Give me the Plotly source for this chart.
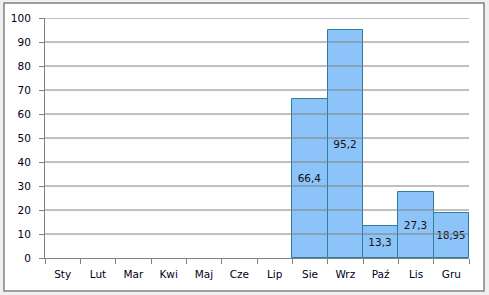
import plotly.graph_objects as go

months = ["Sty", "Lut", "Mar", "Kwi", "Maj", "Cze", "Lip", "Sie", "Wrz", "Paź", "Lis", "Gru"]
values = [None, None, None, None, None, None, None, 66.4, 95.2, 13.3, 27.3, 18.95]
y_ticks = [0, 10, 20, 30, 40, 50, 60, 70, 80, 90, 100]

W, H = 489, 295
L, R, T, B = 45, 20, 18, 37

fig = go.Figure()
fig.add_trace(go.Bar(
    x=months, y=values,
    marker=dict(color="#8cc3f9", line=dict(color="#2e7d9c", width=1)),
    texttemplate="%{y}", textposition="inside", insidetextanchor="middle",
    textangle=0,
    textfont=dict(family="DejaVu Sans", size=10.5, color="#111111"),
    hoverinfo="skip",
))

shapes = [dict(
    type="rect", xref="paper", yref="paper", layer="below",
    x0=(4 - L) / (W - L - R), x1=(484 - L) / (W - L - R),
    y0=(H - B - 291) / (H - T - B), y1=(H - B - 3) / (H - T - B),
    fillcolor="white", line=dict(color="#808080", width=1.5),
)]
for v in y_ticks[1:]:
    shapes.append(dict(type="line", xref="paper", yref="y", x0=0, x1=1, y0=v, y1=v,
                       layer="above", line=dict(color="#808080", width=1)))

fig.update_layout(
    width=W, height=H,
    margin=dict(l=L, r=R, t=T, b=B),
    paper_bgcolor="#f0f0f0",
    plot_bgcolor="#e8f0f3",
    bargap=0,
    separators=", ",
    showlegend=False,
    font=dict(family="DejaVu Sans", size=10.5, color="#000020"),
    xaxis=dict(
        type="category", categoryorder="array", categoryarray=months,
        tickson="boundaries", ticks="outside", ticklen=5, tickcolor="#808080",
        showline=True, linecolor="#808080", linewidth=1,
        showgrid=False, ticklabelstandoff=6, layer="above traces",
    ),
    yaxis=dict(
        range=[0, 100], tickvals=y_ticks, ticks="outside", ticklen=5,
        tickcolor="#808080", showline=True, linecolor="#808080", linewidth=1,
        showgrid=False, zeroline=False,
        ticklabelstandoff=6,
    ),
    shapes=shapes,
)

fig.write_html("out.html")
